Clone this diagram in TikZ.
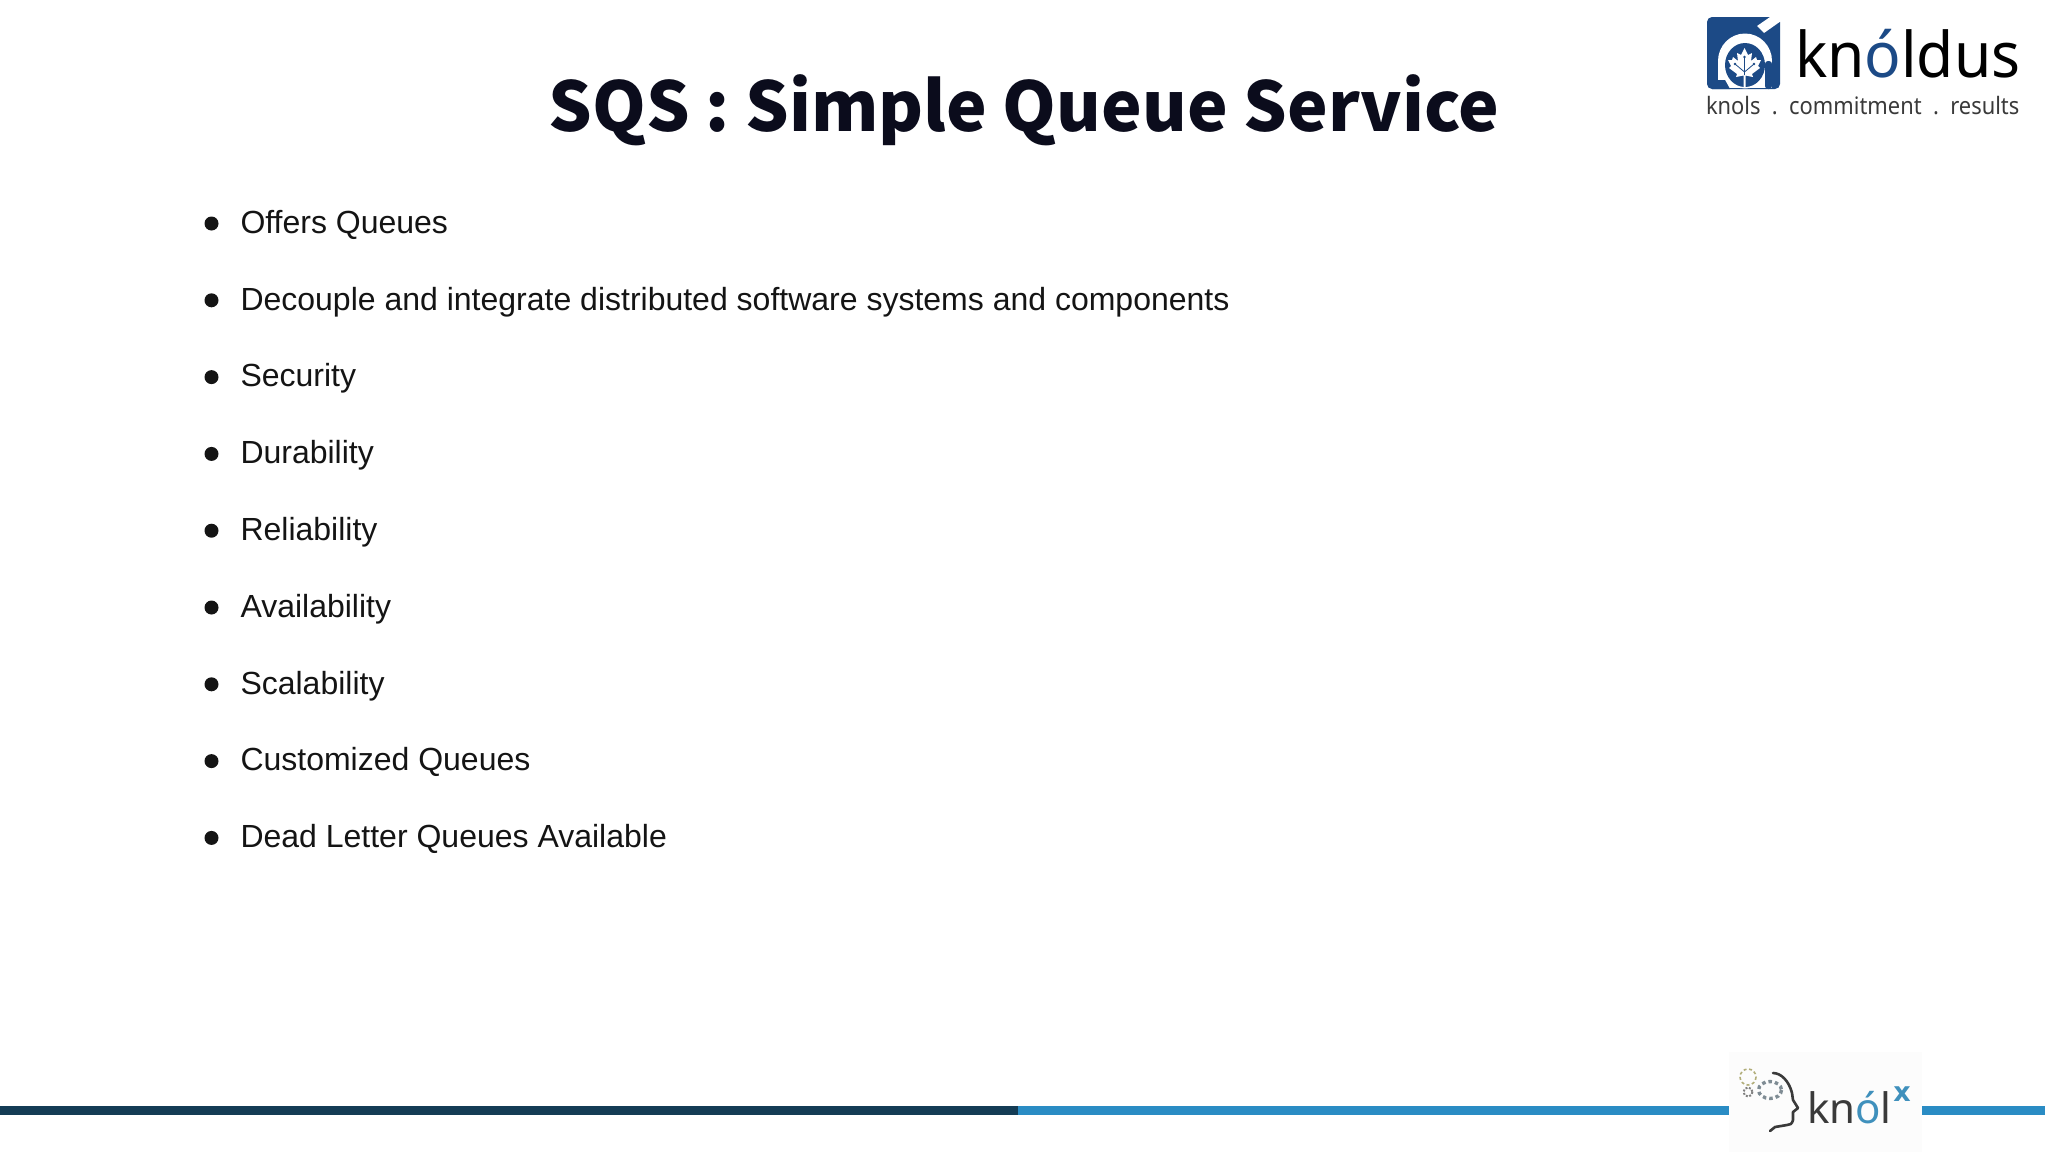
\documentclass[tikz,border=0pt]{standalone}
\usepackage{fontspec}
\setmainfont{Liberation Sans}
\newfontfamily\titlefont{Noto Sans CJK SC}
\newfontfamily\logofont{Noto Sans}
\newfontfamily\markfont{DejaVu Sans}
\usetikzlibrary{calc}
\definecolor{titleink}{HTML}{0B0C1C}
\definecolor{bodyink}{HTML}{141414}
\definecolor{barDark}{HTML}{143C55}
\definecolor{barBlue}{HTML}{2A8CC4}
\definecolor{logoBlue}{HTML}{1C4A86}
\definecolor{knolInk}{HTML}{3A3A3A}
\definecolor{knolBlue}{HTML}{3F90BC}
\definecolor{gearInk}{HTML}{7F8C94}
\tikzset{
  x=1pt,y=-1pt,
  item/.style={anchor=base west,inner sep=0pt,outer sep=0pt,text=bodyink,font=\fontsize{32}{36}\selectfont},
  dotmark/.style={circle,fill=bodyink,draw=none,minimum size=14pt,inner sep=0pt},
  tight/.style={inner sep=0pt,outer sep=0pt}
}
\begin{document}
\begin{tikzpicture}
\useasboundingbox (0,0) rectangle (2048,1152);
\fill[white] (0,0) rectangle (2048,1152);

% title
\node[tight,anchor=base,text=titleink,font=\titlefont\bfseries\fontsize{68.5}{74}\selectfont] (title) at (1024,131) {SQS : Simple Queue Service};

% bullets
\foreach \n/\t [count=\i from 0] in {a/Offers Queues,b/Decouple and integrate distributed software systems and components,c/Security,d/Durability,e/Reliability,f/Availability,g/Scalability,h/Customized Queues,i/Dead Letter Queues Available}{
  \node[dotmark] (dot\n) at (211.5,{223.5+76.8*\i}) {};
  \node[item] (item\n) at (240.5,{233.2+76.8*\i}) {\t};
}

% bottom bar
\fill[barDark] (0,1105.5) rectangle (1018,1114.5);
\fill[barBlue] (1018,1105.5) rectangle (1729,1114.5);
\fill[barBlue] (1922,1105.5) rectangle (2045,1114.5);

% knoldus logo mark
\fill[logoBlue,rounded corners=5pt] (1707,17) -- (1780,17) -- (1780,89) -- (1707,89) -- cycle;
\fill[white] (1757,26) -- (1770,17) -- (1781,16) -- (1781,21) -- (1764,33) -- cycle;
\begin{scope}
  \clip (1707,17) rectangle (1780,88);
  \fill[white] (1745,61) ellipse [x radius=27,y radius=27.5];
  \fill[white] (1718,61) rectangle (1772,88);
\end{scope}
\fill[logoBlue,rounded corners=3pt] (1772,61) -- (1772,89) -- (1765,89) -- (1765,61) -- cycle;
\fill[logoBlue] (1745,65) ellipse [x radius=20,y radius=22];
\fill[logoBlue] (1718,80) -- (1725,80) -- (1730,89) -- (1712,89) -- cycle;
\fill[white] (1744.5,48) -- (1748,55) -- (1752,53) -- (1751,61) -- (1756,57) -- (1757,60) -- (1761,60) -- (1758,66) -- (1760,68) -- (1752,74) -- (1753,77) -- (1745.5,75.5) -- (1745.5,87) -- (1743.5,87) -- (1743.5,75.5) -- (1736,77) -- (1737,74) -- (1729,68) -- (1731,66) -- (1728,60) -- (1732,60) -- (1733,57) -- (1738,61) -- (1737,53) -- (1741,55) -- cycle;
\draw[logoBlue,line width=0.8pt] (1744.5,57) -- (1744.5,75) (1735,64) -- (1744.5,72) -- (1754,64);
\fill[logoBlue] (1744.5,57) circle (1.3pt) (1735,64) circle (1.3pt) (1754,64) circle (1.3pt);

% knoldus wordmark
\node[tight,anchor=base west,text=black,font=\logofont\fontsize{63}{70}\selectfont] (brand) at (1795,77) {\scalebox{0.96}[1]{kn\textcolor{logoBlue}{ó}ldus}};
\node[tight,anchor=base west,text=knolInk,font=\logofont\fontsize{24}{28}\selectfont] (tagline) at (1706,114) {\scalebox{0.912}[1]{knols\ \ .\ \ commitment\ \ .\ \ results}};

% knolx logo
\fill[white!99!black] (1729,1052) rectangle (1922,1152);
\draw[knolInk,line width=2.6pt,line cap=round,line join=round]
  (1773,1073) .. controls (1781,1073) and (1789,1081) .. (1792,1093)
  -- (1793,1100) -- (1798,1108) -- (1793,1112) -- (1793,1120)
  .. controls (1792,1124) and (1790,1125) .. (1787,1125)
  -- (1775,1127) -- (1770,1131);
\draw[gearInk,line width=3.4pt,dash pattern=on 3.5pt off 3pt] (1770,1090) ellipse [x radius=11.5,y radius=8.5];
\draw[gray,line width=2pt,dash pattern=on 2pt off 1.6pt] (1748,1092) circle (4.5);
\draw[olive!45!gray!70,line width=1.6pt,dash pattern=on 3pt off 2.5pt] (1748,1077) circle (8);
\node[tight,anchor=base west,text=knolInk,font=\logofont\fontsize{42}{46}\selectfont] (knol) at (1807,1123) {kn\textcolor{knolBlue}{ó}l};
\node[tight,anchor=center,text=knolBlue,font=\markfont\bfseries\fontsize{27}{30}\selectfont] (knolx) at (1902,1094) {x};
\end{tikzpicture}
\end{document}
